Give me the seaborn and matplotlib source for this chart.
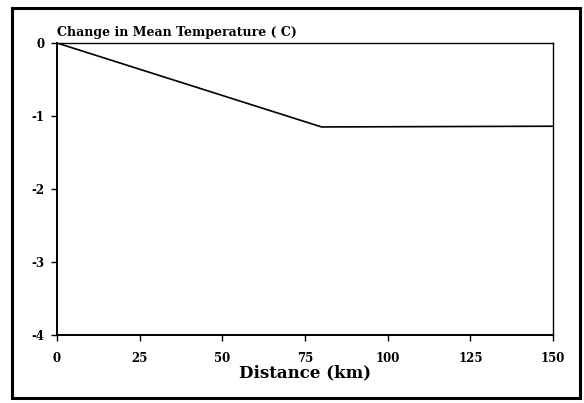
import matplotlib
matplotlib.use("Agg")
import matplotlib.pyplot as plt
import seaborn as sns
import pandas as pd
from matplotlib.patches import Rectangle

distance_km = [0, 80, 150]
temp_change = [0.0, -1.15, -1.14]
x_ticks = [0, 25, 50, 75, 100, 125, 150]
y_ticks = [0, -1, -2, -3, -4]
title = "Change in Mean Temperature ( C)"
xlabel = "Distance (km)"

sns.set_theme(style="white")
plt.rcParams['font.family'] = ['DejaVu Serif']
plt.rcParams['text.color'] = 'black'
plt.rcParams['axes.labelcolor'] = 'black'
plt.rcParams['xtick.color'] = 'black'
plt.rcParams['ytick.color'] = 'black'

df = pd.DataFrame({"Distance": distance_km, "Change": temp_change})

fig = plt.figure(figsize=(5.84, 4.03), dpi=100)
ax = fig.add_axes([57/584, 1 - 335/403, (553-57)/584, (335-43)/403])

sns.lineplot(data=df, x="Distance", y="Change", ax=ax, color="black", linewidth=1.2)

ax.set_xlim(0, 150)
ax.set_ylim(-4, 0)
ax.set_xticks(x_ticks)
ax.set_yticks(y_ticks)
ax.set_xticklabels([str(t) for t in x_ticks], fontsize=8.5, fontweight="heavy")
ax.set_yticklabels([str(t) for t in y_ticks], fontsize=8.5, fontweight="heavy")
ax.tick_params(axis="both", direction="out", length=4, width=1, colors="black",
               bottom=True, left=True, top=False, right=False, pad=5)
ax.tick_params(axis="x", pad=8)
ax.set_xlabel(xlabel, fontsize=12, fontweight="bold", labelpad=0, color="black")
ax.set_ylabel("")
ax.text(0, 1.012, title, transform=ax.transAxes, fontsize=9, fontweight="bold",
        ha="left", va="bottom", color="black")

for side in ["left", "bottom"]:
    ax.spines[side].set_linewidth(1.4)
    ax.spines[side].set_color("black")
for side in ["top", "right"]:
    ax.spines[side].set_linewidth(1.0)
    ax.spines[side].set_color("black")
ax.grid(False)

fig.patches.append(Rectangle((12/584, 1 - 398/403), (580-12)/584, (398-8)/403,
                             transform=fig.transFigure, fill=False,
                             edgecolor="black", linewidth=2.2))

fig.savefig("out.png", dpi=100)
